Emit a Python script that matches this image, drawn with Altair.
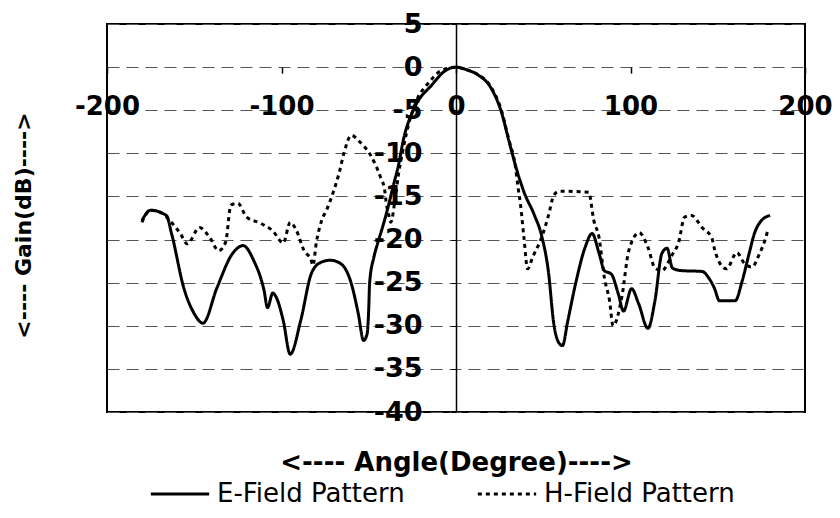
import altair as alt
import pandas as pd

# ---- data ----
series_names = ["E-Field Pattern", "H-Field Pattern"]

e_angle = [-180, -175, -166, -163, -156, -150, -145, -137, -128, -122, -116, -110,
           -108, -105, -103, -99, -95, -89, -83, -78, -72, -66, -60, -56, -53,
           -51, -50, -49.5, -47, -45, -42, -39, -36, -33, -30, -24, -14, -6, 0,
           6, 12.6, 20, 26, 30.5, 34.5, 39, 45, 49, 53, 56, 59, 61, 64, 68, 74,
           78, 82, 85, 89, 93, 96, 100.6, 104.6, 110, 114, 118, 121, 124, 129,
           141, 145, 148, 151, 160, 164, 168, 171, 175, 180]
e_gain = [-17.8, -16.6, -17.2, -19.3, -25.6, -28.6, -29.7, -25.6, -21.6, -20.7, -22.4, -25.9,
          -27.9, -26.2, -26.7, -29.4, -33.3, -29.4, -24.0, -22.7, -22.4, -22.8, -25.1, -28.6, -31.7,
          -31.0, -28.0, -25.0, -22.0, -20.5, -18.5, -16.3, -13.8, -11.4, -8.3, -4.8, -2.1, -0.4, 0.0,
          -0.3, -0.9, -2.4, -5.2, -8.7, -11.7, -14.5, -17.2, -19.5, -23.8, -29.7, -32.0, -32.3, -29.5, -25.6, -20.9,
          -19.3, -21.6, -23.6, -24.0, -26.3, -28.3, -25.7, -27.4, -30.3, -27.1, -21.6, -21.0, -23.3, -23.6,
          -23.7, -24.5, -25.6, -27.1, -27.1, -24.8, -21.6, -19.3, -17.8, -17.2]

h_angle = [-180, -175, -168, -164, -158, -154, -147, -141, -136, -132, -129, -125, -120,
           -112, -105, -99, -95, -92, -87, -83, -82, -80, -77, -74, -70, -67, -64, -60,
           -55, -49, -46, -43, -41, -40, -38.5, -37.4, -35, -33, -30, -27, -22, -16, -10,
           -4, 0, 6, 12, 20, 26, 30, 34, 35.6, 37, 39, 41, 44, 49, 53, 56, 59, 76, 79,
           82, 85, 88, 90, 95, 99, 105, 110, 114, 118, 123.5, 127.6, 131, 135, 141,
           146.6, 148, 152, 155, 161, 165, 169.5, 174, 177, 179]
h_gain = [-18.0, -16.6, -17.0, -17.8, -19.3, -20.5, -18.6, -19.8, -21.3, -20.3, -16.0, -15.8, -17.4,
          -18.1, -19.0, -20.4, -18.0, -18.7, -21.3, -22.4, -23.0, -20.3, -17.8, -16.5, -14.3, -12.3, -9.8, -7.9,
          -8.7, -10.2, -11.4, -12.9, -14.1, -15.7, -17.2, -18.0, -15.5, -12.5, -9.2, -6.5, -3.6, -1.9, -0.6,
          -0.1, 0.0, -0.3, -0.8, -2.3, -5.0, -8.2, -11.5, -14.0, -16.0, -19.9, -23.4, -22.0, -19.8, -17.2, -14.9, -14.4, -14.5, -17.8,
          -19.8, -24.4, -27.1, -30.0, -26.7, -21.3, -19.2, -20.9, -23.3, -23.6, -21.9, -20.3, -17.4, -17.2, -18.6,
          -19.8, -21.0, -23.0, -23.4, -21.5, -22.7, -23.2, -21.6, -20.1, -18.7]

x_ticks = [-200, -100, 0, 100, 200]
y_ticks = [5, 0, -5, -10, -15, -20, -25, -30, -35, -40]
x_domain = [-200, 200]
y_domain = [-40, 5]

df = pd.concat([
    pd.DataFrame({"angle": e_angle, "gain": e_gain, "series": series_names[0]}),
    pd.DataFrame({"angle": h_angle, "gain": h_gain, "series": series_names[1]}),
])

# ---- layout ----
W, H = 698, 388
x0_px = W * (0 - x_domain[0]) / (x_domain[1] - x_domain[0])   # pixel of angle 0
y0_px = H * (y_domain[1] - 0) / (y_domain[1] - y_domain[0])   # pixel of gain 0

FONT = "DejaVu Sans"
LABEL_EXPR = "'' + datum.value"   # plain hyphen minus signs

x_axis = alt.Axis(
    values=x_ticks, offset=-(H - y0_px), grid=False, domain=False,
    ticks=True, tickSize=6, tickColor="black", tickWidth=1.5,
    labelPadding=20, labelFont=FONT, labelFontWeight="bold", labelFontSize=26,
    labelColor="black", labelFlush=False, labelOverlap=False, labelExpr=LABEL_EXPR,
    title="<---- Angle(Degree)---->", titleFont=FONT, titleFontWeight="bold",
    titleFontSize=26, titleColor="black", titleX=x0_px, titleY=395,
    titleAlign="center", titleBaseline="middle",
)
y_axis = alt.Axis(
    values=y_ticks, offset=-x0_px, grid=True, gridDash=[12, 7], gridColor="#555555",
    gridWidth=1.2, domain=True, domainColor="black", domainWidth=1.5,
    ticks=True, tickSize=5, tickColor="black",
    labelPadding=29, labelFont=FONT, labelFontWeight="bold", labelFontSize=27,
    labelColor="black", labelOverlap=False, labelFlush=False, labelExpr=LABEL_EXPR,
    title="<---- Gain(dB)---->", titleFont=FONT, titleFontWeight="bold",
    titleFontSize=22, titleColor="black", titleAngle=270,
    titleX=-84 - x0_px, titleY=201, titleAlign="center", titleBaseline="middle",
)

chart = alt.Chart(df).mark_line(color="black", strokeWidth=3, interpolate="monotone").encode(
    x=alt.X("angle:Q", scale=alt.Scale(domain=x_domain, nice=False, zero=False), axis=x_axis),
    y=alt.Y("gain:Q", scale=alt.Scale(domain=y_domain, nice=False, zero=False), axis=y_axis),
    strokeDash=alt.StrokeDash(
        "series:N",
        scale=alt.Scale(domain=series_names, range=[[1, 0], [4, 4]]),
        legend=alt.Legend(
            title=None, orient="none", legendX=42, legendY=439, direction="horizontal",
            symbolType="stroke", symbolSize=3400, symbolStrokeWidth=3,
            symbolStrokeColor="black", labelFont=FONT, labelFontSize=26,
            labelColor="black", labelLimit=400, labelOffset=6, columnPadding=66,
        ),
    ),
).properties(
    width=W, height=H,
    autosize=alt.AutoSizeParams(type="none"),
    padding={"left": 99, "top": 16, "right": 27, "bottom": 96},
).configure_view(stroke="black", strokeWidth=2)

chart.save("out.html", embed_options={"renderer": "svg", "actions": False})
